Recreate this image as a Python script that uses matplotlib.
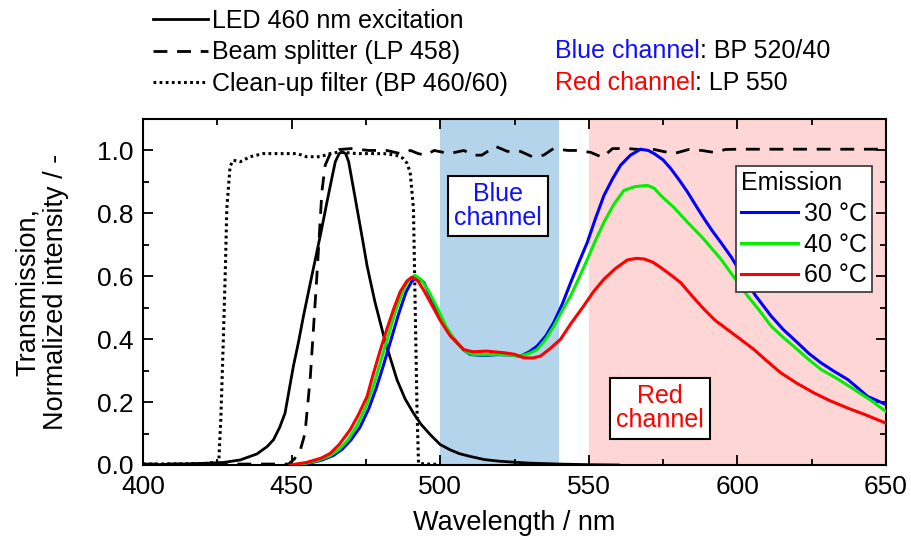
import matplotlib
matplotlib.use("Agg")
import matplotlib.pyplot as plt
from matplotlib.ticker import MultipleLocator, FormatStrFormatter

plt.rcParams['font.family'] = ['Liberation Sans', 'DejaVu Sans']

# ---- excitation LED spectrum (normalized) ----
led_x = [400, 412, 420, 427, 432.7, 438.3, 441.7, 443.9, 446, 447.8, 449.2, 450.6,
         452.3, 454, 456, 458, 460, 461.9, 463.5, 464.7, 466, 467, 468.2, 469.2,
         470.8, 472.5, 474, 475.4, 478, 481, 483.2, 485.5, 488.2, 491, 493.5, 496.7,
         500, 503.4, 506.5, 510.2, 515, 520, 524.7, 530, 540, 550, 560]
led_y = [0.0, 0.003, 0.005, 0.008, 0.016, 0.035, 0.058, 0.08, 0.12, 0.165, 0.24, 0.314,
         0.39, 0.474, 0.565, 0.655, 0.745, 0.836, 0.91, 0.964, 0.99, 0.996, 0.99, 0.964,
         0.88, 0.79, 0.71, 0.633, 0.52, 0.41, 0.34, 0.27, 0.21, 0.165, 0.13, 0.096,
         0.065, 0.048, 0.036, 0.027, 0.017, 0.012, 0.009, 0.006, 0.003, 0.001, 0.0]

# ---- beam splitter LP 458 transmission ----
bs_x = [400, 440, 449, 451, 453, 454.5, 456.3, 458.5, 460.2, 461.3, 463, 466, 470, 476,
        482, 486.6, 490, 492.6, 495, 498, 503, 508, 511, 514, 518.6, 522.6, 527, 531,
        534.8, 538.1, 543, 546, 550.6, 554.6, 558, 563, 567, 572, 575, 578.6, 583.6,
        588, 592, 596, 600, 610, 620, 630, 640, 650]
bs_y = [0.003, 0.003, 0.003, 0.02, 0.05, 0.1, 0.28, 0.6, 0.87, 0.953, 0.99, 1.003, 1.006,
        1.0, 1.0, 0.99, 1.0, 0.99, 0.985, 1.0, 0.99, 1.0, 0.985, 0.985, 1.013, 0.997,
        0.997, 0.98, 0.985, 1.006, 1.0, 1.0, 0.994, 0.978, 1.006, 1.006, 1.003, 1.003,
        0.997, 0.99, 1.003, 1.0, 0.994, 1.003, 1.004, 1.004, 1.004, 1.004, 1.004, 1.004]

# ---- clean-up filter BP 460/60 transmission ----
cf_x = [400, 420, 425.5, 426.2, 427, 427.7, 428.2, 429.3, 430.4, 432.7, 436, 440.5, 446,
        451.8, 455, 459.6, 463, 466, 472, 481, 485, 487.5, 488.8, 489.9, 491, 491.6,
        492.2, 492.7, 495, 500]
cf_y = [0.003, 0.004, 0.01, 0.15, 0.39, 0.62, 0.815, 0.95, 0.969, 0.964, 0.98, 0.99, 0.99,
        0.99, 0.98, 0.98, 0.99, 0.995, 0.99, 0.99, 0.985, 0.975, 0.96, 0.93, 0.815, 0.495,
        0.176, 0.006, 0.003, 0.002]

# ---- emission spectra ----
em30_x = [452, 456, 460, 464, 467, 470, 473, 476, 478.5, 481, 483.5, 486, 488.5, 490.5,
          492.5, 494.5, 497, 500, 503, 505.7, 508, 510.2, 515, 519.2, 523, 527, 530,
          532.6, 535.5, 538.2, 541, 543.9, 546.7, 549.5, 552.3, 555.1, 558, 560.7, 564,
          567.4, 570, 572, 575, 577.6, 580.5, 583.2, 586, 588.8, 591.5, 594.4, 598,
          601.1, 606, 611.3, 615.5, 620.2, 624, 628.1, 632.5, 637.1, 640.5, 643.8, 647, 650]
em30_y = [0.0, 0.006, 0.015, 0.03, 0.05, 0.08, 0.12, 0.18, 0.245, 0.32, 0.4, 0.48, 0.55,
          0.585, 0.595, 0.58, 0.53, 0.465, 0.42, 0.389, 0.365, 0.351, 0.348, 0.351, 0.35,
          0.346, 0.36, 0.378, 0.41, 0.453, 0.51, 0.58, 0.645, 0.708, 0.785, 0.857, 0.91,
          0.953, 0.985, 1.004, 1.0, 0.99, 0.97, 0.942, 0.905, 0.868, 0.825, 0.783, 0.745,
          0.708, 0.66, 0.612, 0.54, 0.474, 0.43, 0.389, 0.355, 0.325, 0.298, 0.272,
          0.245, 0.218, 0.205, 0.192]

em40_x = [451, 455, 459, 463, 466, 469, 472, 475, 477.5, 480, 482.5, 485, 487.5, 489.5,
          491.5, 493.5, 496, 499, 502, 505, 508, 510.5, 515, 519, 523, 527, 530, 532.6,
          535.5, 538.2, 541, 543.9, 546.7, 549.5, 552.3, 555.1, 558.5, 561.8, 565.5,
          569.7, 572, 574.2, 578.5, 583.2, 588.5, 594.4, 599, 603.4, 607.5, 611.3, 615.5,
          620.2, 624, 628.1, 633.5, 639.3, 645, 650]
em40_y = [0.0, 0.006, 0.015, 0.03, 0.05, 0.08, 0.125, 0.185, 0.25, 0.33, 0.41, 0.49,
          0.555, 0.59, 0.603, 0.59, 0.555, 0.5, 0.44, 0.395, 0.365, 0.352, 0.35, 0.352,
          0.35, 0.346, 0.355, 0.367, 0.4, 0.44, 0.49, 0.538, 0.595, 0.654, 0.715, 0.772,
          0.83, 0.873, 0.885, 0.889, 0.88, 0.857, 0.82, 0.772, 0.72, 0.655, 0.595, 0.538,
          0.49, 0.442, 0.405, 0.367, 0.335, 0.304, 0.275, 0.24, 0.205, 0.17]

em60_x = [449.5, 455, 460, 463, 466, 469.7, 472.5, 475.4, 477.5, 479.9, 482, 484.3,
          486.5, 488.8, 490.5, 492.5, 494.5, 496.7, 500, 503.4, 507.9, 511, 515.7, 521.4,
          525, 528.1, 531, 533.7, 537, 540.5, 544, 548.3, 551.5, 555.1, 559, 563, 566,
          568.6, 571.5, 574.2, 577.5, 580.9, 584.5, 588.8, 592.5, 596.6, 601, 605.6, 610,
          614.6, 620, 625.8, 631, 637.1, 643, 650]
em60_y = [0.0, 0.008, 0.022, 0.037, 0.065, 0.112, 0.16, 0.218, 0.29, 0.367, 0.43, 0.495,
          0.55, 0.585, 0.597, 0.585, 0.555, 0.517, 0.46, 0.41, 0.367, 0.36, 0.362, 0.357,
          0.352, 0.341, 0.34, 0.346, 0.37, 0.4, 0.45, 0.506, 0.55, 0.591, 0.625, 0.652,
          0.657, 0.655, 0.645, 0.628, 0.605, 0.58, 0.54, 0.495, 0.46, 0.431, 0.4, 0.367,
          0.33, 0.293, 0.26, 0.229, 0.205, 0.181, 0.16, 0.133]

emission_labels = ['30 °C', '40 °C', '60 °C']
emission_colors = ['#0000ff', '#00f000', '#ff0000']

blue_band = (500, 540)
red_band = (550, 650)

fig = plt.figure(figsize=(9.11, 5.40), dpi=100)
ax = fig.add_axes([143 / 911, 75 / 540, 743 / 911, 346 / 540])

ax.axvspan(*blue_band, color='#b4d4ec', lw=0, zorder=0)
ax.axvspan(*red_band, color='#ffd6d6', lw=0, zorder=0)

h_led, = ax.plot(led_x, led_y, color='black', lw=2.0, zorder=3)
h_bs, = ax.plot(bs_x, bs_y, color='black', lw=2.0, ls=(0, (5, 3.5)), zorder=3)
h_cf, = ax.plot(cf_x, cf_y, color='black', lw=2.2, ls=(0, (0.9, 1.1)), zorder=3)

em_handles = []
for xs, ys, c in zip([em30_x, em40_x, em60_x], [em30_y, em40_y, em60_y], emission_colors):
    h, = ax.plot(xs, ys, color=c, lw=2.2, zorder=4)
    em_handles.append(h)

ax.set_xlim(400, 650)
ax.set_ylim(0, 1.1)
ax.xaxis.set_major_locator(MultipleLocator(50))
ax.xaxis.set_minor_locator(MultipleLocator(25))
ax.yaxis.set_major_locator(MultipleLocator(0.2))
ax.yaxis.set_minor_locator(MultipleLocator(0.1))
ax.yaxis.set_major_formatter(FormatStrFormatter('%.1f'))
ax.tick_params(which='both', direction='in', top=True, right=True, width=1.3,
               labelsize=19, pad=7)
ax.tick_params(which='major', length=7)
ax.tick_params(which='minor', length=4)
for s in ax.spines.values():
    s.set_linewidth(1.5)

ax.set_xlabel('Wavelength / nm', fontsize=19.5)
ax.xaxis.set_label_coords(0.5, -0.13)
ax.set_ylabel('Transmission,\nNormalized intensity / -', fontsize=19.5, linespacing=1.1)
ax.yaxis.set_label_coords(-0.1, 0.5)

# channel boxes
box = dict(boxstyle='square,pad=0.25', fc='white', ec='black', lw=1.5)
ax.text(519.4, 0.824, 'Blue\nchannel', color='#1010ff', fontsize=18, ha='center',
        va='center', linespacing=1.0, bbox=box, zorder=6)
ax.text(573.9, 0.18, 'Red\nchannel', color='#ff0000', fontsize=18, ha='center',
        va='center', linespacing=1.0, bbox=box, zorder=6)

# emission legend
leg = ax.legend(em_handles, emission_labels, title='Emission', loc='upper right',
                bbox_to_anchor=(0.981, 0.864), borderaxespad=0, fontsize=18,
                title_fontsize=18, frameon=True, fancybox=False, framealpha=1,
                edgecolor='#333333', handlelength=2.25, handletextpad=0.25,
                labelspacing=0.27, borderpad=0.2, alignment='left')
leg.get_frame().set_linewidth(1.2)
leg.set_zorder(7)

# filter / excitation legend above the plot
fig.legend([h_led, h_bs, h_cf],
           ['LED 460 nm excitation', 'Beam splitter (LP 458)', 'Clean-up filter (BP 460/60)'],
           loc='upper left', bbox_to_anchor=(153 / 911, 1 - 9 / 540), frameon=False,
           fontsize=18, handlelength=2.2, handletextpad=0.15, labelspacing=0.3,
           borderpad=0, borderaxespad=0)

t1 = fig.text(555 / 911, 1 - 51 / 540, 'Blue channel', color='#1010ff', fontsize=18,
              va='center', ha='left')
ax.annotate(': BP 520/40', xy=(1, 0), xycoords=t1, va='bottom', ha='left',
            fontsize=18, color='black', annotation_clip=False)
t2 = fig.text(555 / 911, 1 - 83 / 540, 'Red channel', color='#ff0000', fontsize=18,
              va='center', ha='left')
ax.annotate(': LP 550', xy=(1, 0), xycoords=t2, va='bottom', ha='left',
            fontsize=18, color='black', annotation_clip=False)

fig.savefig('out.png', dpi=100)
